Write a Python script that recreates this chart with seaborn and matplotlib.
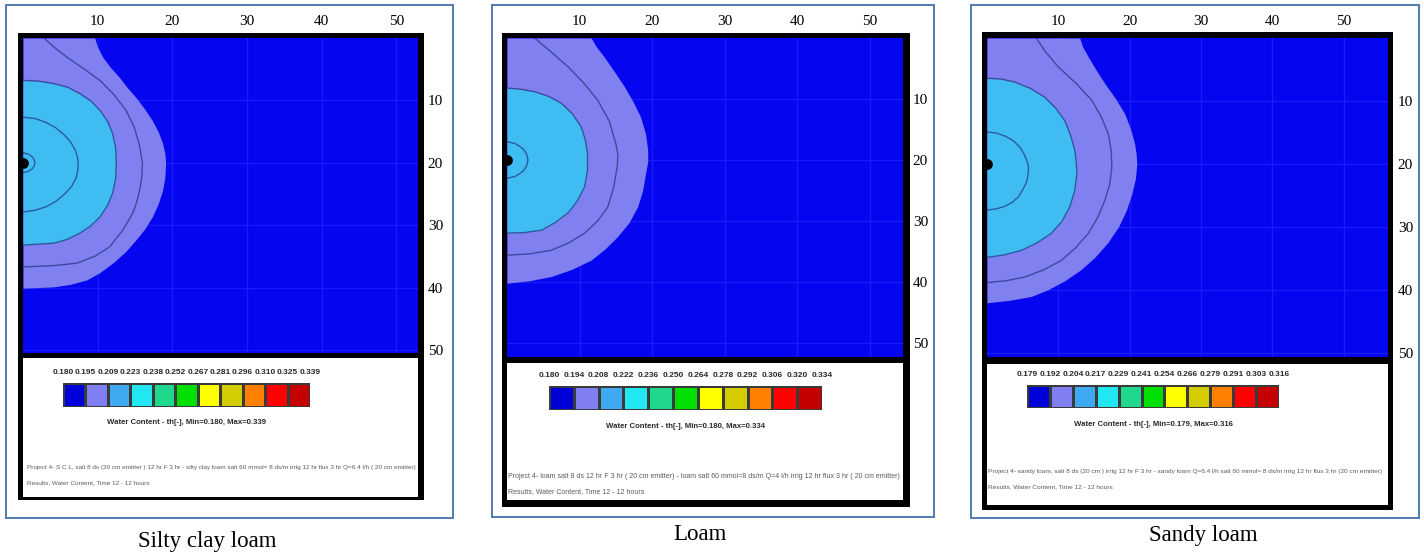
import numpy as np
import matplotlib
matplotlib.use("Agg")
import matplotlib.pyplot as plt
from matplotlib.colors import ListedColormap
from matplotlib.patches import Rectangle
import seaborn as sns

W, H = 1424, 554

# ---- data ----
soils = ["Silty clay loam", "Loam", "Sandy loam"]

levels_scl = [0.180, 0.195, 0.209, 0.223, 0.238, 0.252, 0.267, 0.281, 0.296, 0.310, 0.325, 0.339]
levels_loam = [0.180, 0.194, 0.208, 0.222, 0.236, 0.250, 0.264, 0.278, 0.292, 0.306, 0.320, 0.334]
levels_sl = [0.179, 0.192, 0.204, 0.217, 0.229, 0.241, 0.254, 0.266, 0.279, 0.291, 0.303, 0.316]

level_colors = ["#0000d8", "#7f7ff2", "#3fa9f2", "#22e6f0", "#20d88c", "#00e000",
                "#ffff00", "#d2cc00", "#ff8000", "#ff0000", "#c40000"]

# wetting fronts: depth (cm) and horizontal distance (cm) of each isoline
scl_outer_z = [0, 1.5, 3.1, 4.7, 6.3, 8.0, 9.5, 11.4, 13.2, 15.0, 16.9, 18.5, 20.1, 22.3, 24.4, 26.6, 28.7,
               30.6, 32.4, 34.3, 36.1, 37.6, 38.8, 39.5, 39.9, 40.1]
scl_outer_x = [9.6, 10.0, 10.7, 11.7, 12.9, 14.0, 15.1, 16.3, 17.3, 18.1, 18.7, 19.0, 19.1, 19.0, 18.7, 18.1,
               17.3, 16.3, 15.1, 13.7, 12.0, 10.3, 8.5, 6.3, 4.1, 0]
scl_wet_z = [6.8, 6.9, 7.3, 7.9, 8.9, 10.1, 11.6, 13.3, 15.3, 17.6, 20.1, 22.6, 24.9, 26.9, 28.7, 30.1,
             31.3, 32.3, 32.9, 33.2]
scl_wet_x = [0, 2.0, 4.1, 6.0, 7.6, 9.1, 10.3, 11.3, 12.0, 12.4, 12.5, 12.4, 12.0, 11.3, 10.3, 9.1,
             7.6, 5.9, 4.1, 0]
scl_mid_z = [0, 1.5, 3.1, 4.9, 6.8, 9.1, 11.6, 14.3, 17.2, 20.1, 22.4, 24.5, 26.4, 28.1, 30.9, 33.5,
             35.0, 36.1, 36.5, 36.7]
scl_mid_x = [2.8, 4.2, 5.9, 8.1, 10.3, 12.2, 13.8, 14.9, 15.6, 16.0, 15.9, 15.6, 15.2, 14.7, 13.3, 11.6,
             9.6, 7.2, 4.0, 0]
scl_core_z = [12.7, 12.9, 13.5, 14.4, 15.5, 16.7, 18.0, 19.1, 20.3, 21.4, 22.5, 23.8, 25.0, 26.1, 27.0,
              27.6, 27.9]
scl_core_x = [0, 1.6, 3.0, 4.4, 5.5, 6.4, 7.0, 7.3, 7.4, 7.3, 7.1, 6.5, 5.6, 4.5, 3.2, 1.7, 0]
scl_ring_z = [18.4, 18.6, 19.0, 19.5, 20.0, 20.5, 21.0, 21.4, 21.6]
scl_ring_x = [0, 0.7, 1.2, 1.5, 1.6, 1.5, 1.2, 0.7, 0]

loam_outer_z = [0, 1.4, 3.1, 5.5, 8.0, 10.5, 12.9, 15.7, 18.4, 20.3, 22.2, 25.0, 27.7, 30.3, 32.6, 34.6,
                36.4, 37.9, 39.1, 39.8, 40.2]
loam_outer_x = [11.6, 12.3, 13.4, 14.8, 16.2, 17.4, 18.4, 19.1, 19.4, 19.4, 19.1, 18.7, 18.0, 16.8, 15.2,
                13.5, 11.6, 9.0, 6.1, 3.1, 0]
loam_wet_z = [8.2, 8.4, 8.8, 9.6, 10.7, 12.4, 14.5, 16.7, 18.9, 21.7, 24.4, 26.7, 28.7, 30.2, 31.5, 31.9,
              32.0]
loam_wet_x = [0, 1.9, 3.8, 5.8, 7.5, 9.0, 10.2, 10.8, 11.1, 11.1, 10.7, 9.7, 8.4, 6.7, 4.8, 2.4, 0]
loam_mid_z = [0, 2.2, 4.7, 7.4, 10.2, 13.6, 17.3, 19.2, 21.1, 24.5, 27.7, 30.0, 32.0, 33.6, 34.8, 35.4,
              35.6]
loam_mid_x = [3.8, 6.0, 8.4, 10.6, 12.5, 14.1, 15.0, 15.3, 15.2, 14.7, 13.9, 12.5, 10.7, 8.5, 6.1, 3.1, 0]
loam_ring_z = [17.0, 17.3, 17.8, 18.3, 19.0, 20.0, 21.0, 21.7, 22.2, 22.7, 23.0]
loam_ring_x = [0, 1.1, 1.8, 2.3, 2.7, 2.9, 2.7, 2.3, 1.8, 1.1, 0]

sl_outer_z = [0, 1.4, 3.0, 5.1, 7.2, 9.6, 12.0, 14.4, 16.8, 18.4, 19.9, 22.3, 24.7, 27.4, 30.0, 32.5,
              34.8, 36.8, 38.5, 39.9, 41.0, 41.6, 42.0]
sl_outer_x = [13.0, 13.4, 14.2, 15.3, 16.5, 18.0, 19.3, 20.1, 20.7, 20.9, 21.0, 20.8, 20.3, 19.5, 18.4,
              16.9, 15.1, 13.1, 10.9, 8.6, 6.2, 3.2, 0]
sl_wet_z = [6.4, 6.5, 7.0, 8.0, 9.4, 11.1, 13.1, 15.4, 17.8, 19.6, 21.5, 24.2, 26.8, 29.1, 31.0, 32.5,
            33.7, 34.4, 34.8]
sl_wet_x = [0, 2.0, 3.9, 6.1, 8.1, 9.6, 10.9, 11.7, 12.3, 12.5, 12.6, 12.3, 11.6, 10.5, 9.0, 7.0,
            4.8, 2.4, 0]
sl_mid_z = [0, 2.2, 4.6, 7.2, 9.9, 12.5, 15.2, 17.8, 20.5, 23.2, 25.8, 28.5, 31.0, 33.3, 35.3, 36.8,
            37.9, 38.5, 38.8]
sl_mid_x = [6.9, 8.2, 10.0, 12.5, 14.7, 16.0, 17.0, 17.4, 17.5, 17.2, 16.5, 15.5, 14.2, 12.4, 10.4, 7.9,
            5.3, 2.7, 0]
sl_core_z = [14.9, 15.1, 15.6, 16.3, 17.3, 18.4, 19.5, 20.3, 21.1, 22.0, 23.0, 24.1, 25.2, 26.1, 26.7,
             27.1, 27.3]
sl_core_x = [0, 1.4, 2.6, 3.7, 4.6, 5.2, 5.6, 5.8, 5.8, 5.7, 5.5, 5.0, 4.4, 3.5, 2.5, 1.3, 0]

emitter_depth = 20
ticks = [10, 20, 30, 40, 50]

footers = [
    ["Project 4- S C L, salt 8 ds (20 cm emitter ) 12 hr F 3 hr - silty clay loam salt 60 mmol= 8 ds/m irrig 12 hr flux 3 hr Q=6.4 l/h ( 20 cm emitter)",
     "Results, Water Content, Time 12 - 12 hours"],
    ["Project 4- loam salt 8 ds 12 hr F 3 hr ( 20 cm emitter) - loam salt 60 mmol=8 ds/m Q=4 l/h irrig 12 hr flux 3 hr ( 20 cm emitter)",
     "Results, Water Content, Time 12 - 12 hours"],
    ["Project 4- sandy loam, salt 8 ds (20 cm ) irrig 12 hr F 3 hr - sandy loam Q=6.4 l/h salt 60 mmol= 8 ds/m irrig 12 hr flux 3 hr (20 cm emitter)",
     "Results, Water Content, Time 12 - 12 hours"],
]

panels = [
    dict(levels=levels_scl, outer=(scl_outer_x, scl_outer_z), wet=(scl_wet_x, scl_wet_z),
         lines=[(scl_wet_x, scl_wet_z), (scl_mid_x, scl_mid_z), (scl_core_x, scl_core_z), (scl_ring_x, scl_ring_z)],
         xmax=52.9, zmax=50.5, foot_fs=4.6,
         frame=(6, 5, 453, 518), black=(18, 33, 424, 500), plot=(23, 38, 418, 353),
         white=(23, 358, 418, 497), boxes=(63, 383, 310, 407), title_y=422, foot=(27, 468), cap=(207, 541)),
    dict(levels=levels_loam, outer=(loam_outer_x, loam_outer_z), wet=(loam_wet_x, loam_wet_z),
         lines=[(loam_wet_x, loam_wet_z), (loam_mid_x, loam_mid_z), (loam_ring_x, loam_ring_z)],
         xmax=54.6, zmax=52.3, foot_fs=5.05,
         frame=(492, 5, 934, 517), black=(502, 33, 910, 507), plot=(507, 38, 903, 357),
         white=(507, 363, 903, 500), boxes=(549, 386, 822, 410), title_y=427, foot=(508, 477), cap=(700, 535)),
    dict(levels=levels_sl, outer=(sl_outer_x, sl_outer_z), wet=(sl_wet_x, sl_wet_z),
         lines=[(sl_wet_x, sl_wet_z), (sl_mid_x, sl_mid_z), (sl_core_x, sl_core_z)],
         xmax=56.2, zmax=50.6, foot_fs=4.65,
         frame=(971, 5, 1419, 518), black=(982, 32, 1393, 510), plot=(987, 38, 1388, 357),
         white=(987, 364, 1388, 505), boxes=(1027, 385, 1279, 408), title_y=425, foot=(988, 472), cap=(1203, 535)),
]

narrow = ["Liberation Sans Narrow", "Liberation Sans", "DejaVu Sans"]
serif = ["Liberation Serif", "DejaVu Serif"]


def px_rect(l, t, r, b):
    return [l / W, 1 - b / H, (r - l) / W, (b - t) / H]


def add_box(fig, l, t, r, b, z, **kw):
    x0, y0, w, h = px_rect(l, t, r, b)
    fig.add_artist(Rectangle((x0, y0), w, h, transform=fig.transFigure, zorder=z, **kw))


fig = plt.figure(figsize=(W / 100, H / 100), dpi=100)
fig.patch.set_facecolor("white")
cmap = ListedColormap(level_colors)

for i, p in enumerate(panels):
    add_box(fig, *p["frame"], z=-3, facecolor="white", edgecolor="#4f7bab", lw=1.4)
    add_box(fig, *p["black"], z=-2, facecolor="black", edgecolor="none")
    add_box(fig, *p["white"], z=-1, facecolor="white", edgecolor="none")

    # contour plot of water content
    ax = fig.add_axes(px_rect(*p["plot"]))
    ax.set_facecolor("#0505f0")
    ax.fill_betweenx(p["outer"][1], 0, p["outer"][0], color="#8080f0", lw=0)
    ax.fill_betweenx(p["wet"][1], 0, p["wet"][0], color="#3fbdf3", lw=0)
    for lx, lz in p["lines"]:
        sns.lineplot(x=lx, y=lz, sort=False, estimator=None, ax=ax,
                     color="#25307a", lw=1.0, alpha=0.7)
    ax.scatter([0], [emitter_depth], s=45, color="black", zorder=5)
    ax.set_xlim(0, p["xmax"])
    ax.set_ylim(p["zmax"], 0)
    ax.set_axisbelow(True)
    ax.grid(True, color="#1c1cfa", lw=0.9)
    ax.xaxis.tick_top()
    ax.yaxis.tick_right()
    ax.set_xticks(ticks)
    ax.set_yticks(ticks)
    ax.set_xticklabels([str(t) for t in ticks], family=serif, fontsize=11)
    ax.set_yticklabels([str(t) for t in ticks], family=serif, fontsize=11)
    ax.tick_params(axis="x", length=0, pad=7.5)
    ax.tick_params(axis="y", length=0, pad=7)
    ax.set_xlabel("")
    ax.set_ylabel("")
    for s in ax.spines.values():
        s.set_visible(False)

    # colour legend
    cax = fig.add_axes(px_rect(*p["boxes"]))
    sns.heatmap(np.arange(len(level_colors))[None, :], cmap=cmap, vmin=-0.5,
                vmax=len(level_colors) - 0.5, cbar=False, linewidths=0.8,
                linecolor="#3a3a3a", xticklabels=False, yticklabels=False, ax=cax)
    cax.xaxis.tick_top()
    cax.set_xticks(np.arange(len(p["levels"])))
    cax.set_xticklabels([f"{v:.3f}" for v in p["levels"]], family=narrow,
                        fontweight="bold", fontsize=6, color="#2a2a2a")
    cax.tick_params(axis="x", length=0, pad=5)
    cax.set_yticks([])

    bl, bt, br, bb = p["boxes"]
    fig.text((bl + br) / 2 / W, 1 - p["title_y"] / H,
             f"Water Content - th[-], Min={p['levels'][0]:.3f}, Max={p['levels'][-1]:.3f}",
             ha="center", va="center", family=narrow, fontweight="bold",
             fontsize=5.6, color="#2a2a2a")

    fx, fy = p["foot"]
    for k, line in enumerate(footers[i]):
        fig.text(fx / W, 1 - (fy + 15 * k) / H, line, ha="left", va="center",
                 family=narrow, fontsize=p["foot_fs"], color="#5a5a5a")

    cx, cy = p["cap"]
    fig.text(cx / W, 1 - cy / H, soils[i], ha="center", va="center",
             family=serif, fontsize=16.5, color="black")

fig.savefig("out.png", dpi=100, facecolor="white")
